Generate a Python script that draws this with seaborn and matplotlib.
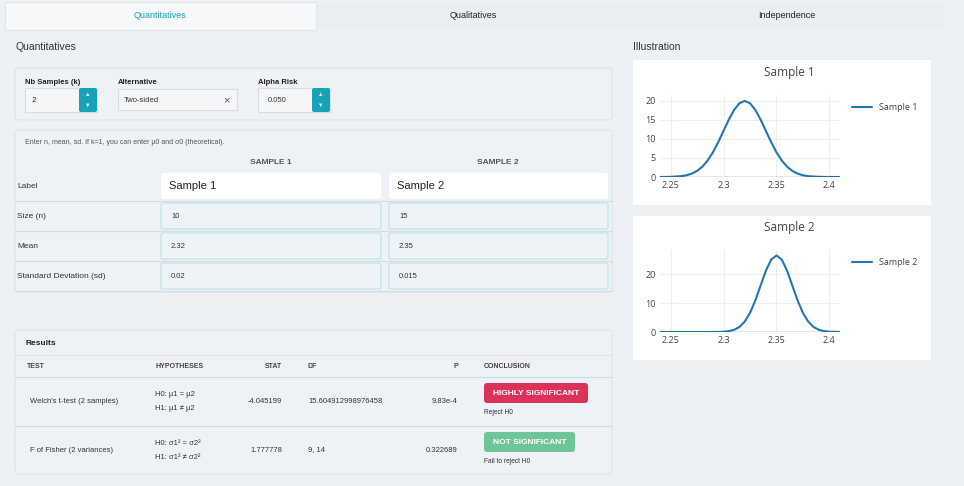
import matplotlib
matplotlib.use("Agg")
import matplotlib.pyplot as plt
import seaborn as sns
import pandas as pd
from matplotlib.patches import Rectangle, FancyBboxPatch
from matplotlib.ticker import FuncFormatter

sns.set_style("white")
plt.rcParams['font.family'] = ['Liberation Sans', 'DejaVu Sans']

# ---- data ----
s1_x = [2.24, 2.25, 2.26, 2.265, 2.27, 2.275, 2.28, 2.285, 2.29, 2.295, 2.30, 2.305, 2.31, 2.315, 2.32,
        2.325, 2.33, 2.335, 2.34, 2.345, 2.35, 2.355, 2.36, 2.365, 2.37, 2.375, 2.38, 2.39, 2.40, 2.41]
s1_y = [0.0, 0.04, 0.22, 0.45, 0.88, 1.59, 2.70, 4.32, 6.48, 9.13, 12.10, 15.06, 17.61, 19.34, 19.95,
        19.34, 17.61, 15.06, 12.10, 9.13, 6.48, 4.32, 2.70, 1.59, 0.88, 0.45, 0.22, 0.04, 0.0, 0.0]
s2_x = [2.24, 2.28, 2.29, 2.29, 2.295, 2.30, 2.305, 2.31, 2.315, 2.32, 2.325, 2.33, 2.335, 2.34, 2.345, 2.35,
        2.355, 2.36, 2.365, 2.37, 2.375, 2.38, 2.385, 2.39, 2.395, 2.40, 2.41]
s2_y = [0.0, 0.0, 0.0, 0.01, 0.03, 0.10, 0.30, 0.76, 1.75, 3.60, 6.63, 10.93, 16.13, 21.3, 25.17, 26.6,
        25.17, 21.3, 16.13, 10.93, 6.63, 3.60, 1.75, 0.76, 0.30, 0.10, 0.0]
samples = ["Sample 1", "Sample 2"]
sizes = ["10", "15"]
means = ["2.32", "2.35"]
sds = ["0.02", "0.015"]
tests = ["Welch's t-test (2 samples)", "F of Fisher (2 variances)"]
hyp0 = ["H0: µ1 = µ2", "H0: σ1² = σ2²"]
hyp1 = ["H1: µ1 ≠ µ2", "H1: σ1² ≠ σ2²"]
stats = ["-4.045199", "1.777778"]
dfs = ["15.604912998976458", "9, 14"]
pvals = ["9.83e-4", "0.322689"]
concl = ["HIGHLY SIGNIFICANT", "NOT SIGNIFICANT"]
concl_sub = ["Reject H0", "Fail to reject H0"]

W, H = 964, 486
fig = plt.figure(figsize=(W/100, H/100), dpi=100)
fig.patch.set_facecolor("#edf1f6")
ui = fig.add_axes([0, 0, 1, 1])
ui.set_xlim(0, W); ui.set_ylim(H, 0); ui.axis("off")

def box(x0, y0, x1, y1, fc, ec="none", lw=0.8, r=0):
    if r:
        ui.add_patch(FancyBboxPatch((x0, y0), x1-x0, y1-y0, boxstyle=f"round,pad=0,rounding_size={r}",
                                    fc=fc, ec=ec, lw=lw))
    else:
        ui.add_patch(Rectangle((x0, y0), x1-x0, y1-y0, fc=fc, ec=ec, lw=lw))

def t(x, y, s, size=6, color="#333333", ha="left", weight="normal"):
    ui.text(x, y, s, fontsize=size, color=color, ha=ha, va="center", fontweight=weight)

# tabs
box(5, 2, 944, 30, "#e9eef3")
box(5, 2, 316, 30, "#f6f8fa", ec="#dfe4ea")
t(160, 16, "Quantitatives", 6.5, "#17a2b8", "center")
t(473, 16, "Qualitatives", 6.5, "#222222", "center")
t(787, 16, "Independence", 6.5, "#222222", "center")

t(15, 47, "Quantitatives", 7.5, "#333333")
t(633, 47, "Illustration", 7.5, "#333333")

# panel 1
box(15, 68, 612, 120, "#eef2f6", ec="#dde3ea", r=3)
t(25, 82, "Nb Samples (k)", 5.5, "#222", weight="bold")
box(25, 88, 97, 112, "#f4f6f8", ec="#d7dde4")
t(32, 100, "2", 6)
box(79, 88, 97, 112, "#17a2b8", r=2)
ui.text(88, 94, "▲", fontsize=4, color="white", ha="center", va="center")
ui.text(88, 105, "▼", fontsize=4, color="white", ha="center", va="center")
t(118, 82, "Alternative", 5.5, "#222", weight="bold")
box(118, 89, 237, 110, "#f4f6f8", ec="#d7dde4")
t(124, 100, "Two-sided", 5.5)
t(226, 100, "×", 8, "#555", "center")
t(258, 82, "Alpha Risk", 5.5, "#222", weight="bold")
box(258, 88, 330, 112, "#f4f6f8", ec="#d7dde4")
t(268, 100, "0.050", 5.5)
box(312, 88, 330, 112, "#17a2b8", r=2)
ui.text(321, 94, "▲", fontsize=4, color="white", ha="center", va="center")
ui.text(321, 105, "▼", fontsize=4, color="white", ha="center", va="center")

# panel 2
box(15, 130, 612, 292, "#eef2f6", ec="#dde3ea", r=3)
t(25, 142, "Enter n, mean, sd. If k=1, you can enter µ0 and σ0 (theoretical).", 5, "#555")
t(271, 162, "SAMPLE 1", 6, "#555", "center", "bold")
t(498, 162, "SAMPLE 2", 6, "#555", "center", "bold")
rows = [("Label", samples), ("Size (n)", sizes), ("Mean", means), ("Standard Deviation (sd)", sds)]
for i, (lab, vals) in enumerate(rows):
    yc = 186 + 30*i
    t(17, yc, lab, 6, "#333")
    ui.plot([15, 612], [yc+15, yc+15], color="#d3dbe3", lw=0.8)
    for j, v in enumerate(vals):
        x0 = 161 if j == 0 else 389
        x1 = 381 if j == 0 else 608
        if i == 0:
            box(x0, yc-13, x1, yc+13, "white", r=3)
            t(x0+8, yc, v, 8, "#222")
        else:
            box(x0, yc-13, x1, yc+13, "#eef3f7", ec="#b9e3ea", r=2)
            t(x0+10, yc, v, 5.5, "#333")

# panel 3
box(15, 330, 612, 474, "#eef2f6", ec="#dde3ea", r=3)
t(25, 343, "Results", 6, "#222", weight="bold")
ui.plot([15, 612], [355, 355], color="#dde3ea", lw=0.8)
hy = 366
t(27, hy, "TEST", 5, "#444", weight="bold")
t(155, hy, "HYPOTHESES", 5, "#444", weight="bold")
t(282, hy, "STAT", 5, "#444", "right", "bold")
t(308, hy, "DF", 5, "#444", weight="bold")
t(458, hy, "P", 5, "#444", "right", "bold")
t(484, hy, "CONCLUSION", 5, "#444", weight="bold")
ui.plot([15, 612], [377, 377], color="#bfe3ea", lw=0.8)
badge_c = ["#dc3259", "#6dc598"]
badge_w = [104, 91]
for i in range(2):
    yc = 401 + 49*i
    t(30, yc, tests[i], 5.5)
    t(155, yc-7, hyp0[i], 5.5)
    t(155, yc+7, hyp1[i], 5.5)
    t(282, yc, stats[i], 5.5, ha="right")
    t(308, yc, dfs[i], 5.5)
    t(458, yc, pvals[i], 5.5, ha="right")
    box(484, yc-18, 484+badge_w[i], yc+2, badge_c[i], r=3)
    t(484+badge_w[i]/2, yc-8, concl[i], 6, "white", "center", "bold")
    t(484, yc+11, concl_sub[i], 4.8, "#333")
    if i == 0:
        ui.plot([15, 612], [426, 426], color="#d3dbe3", lw=0.8)

# chart cards
box(633, 60, 931, 205, "white")
box(633, 216, 931, 360, "white")

def chart(px, py, pw, ph, xs, ys, name, yticks, ylim):
    ax = fig.add_axes([px/W, 1-(py+ph)/H, pw/W, ph/H])
    df = pd.DataFrame({"x": xs, "y": ys})
    sns.lineplot(data=df, x="x", y="y", ax=ax, color="#1f77b4", lw=1.5, label=name)
    ax.set_xlim(2.24, 2.41); ax.set_ylim(*ylim)
    ax.set_xticks([2.25, 2.3, 2.35, 2.4]); ax.set_yticks(yticks)
    ax.xaxis.set_major_formatter(FuncFormatter(lambda v, p: f"{v:g}"))
    ax.grid(True, color="#eeeeee", lw=0.8)
    ax.axhline(0, color="#444444", lw=0.9)
    for s in ax.spines.values(): s.set_visible(False)
    ax.tick_params(labelsize=6.5, colors="#444444", length=0, pad=3)
    for lab in ax.get_xticklabels() + ax.get_yticklabels():
        lab.set_fontfamily("Open Sans")
    ax.set_xlabel(""); ax.set_ylabel("")
    ax.set_title(name, fontsize=8.5, color="#444444", pad=14, fontfamily="Open Sans", x=0.72)
    leg = ax.legend(loc="upper left", bbox_to_anchor=(1.02, 1.0), frameon=False, fontsize=6.5,
                    handlelength=2.2)
    for tx in leg.get_texts():
        tx.set_color("#444444"); tx.set_fontfamily("Open Sans")

chart(660, 95, 180, 82, s1_x, s1_y, "Sample 1", [0, 5, 10, 15, 20], (0, 21.5))
chart(660, 250, 180, 82, s2_x, s2_y, "Sample 2", [0, 10, 20], (0, 28.5))

fig.savefig("out.png", dpi=100, facecolor=fig.get_facecolor())
